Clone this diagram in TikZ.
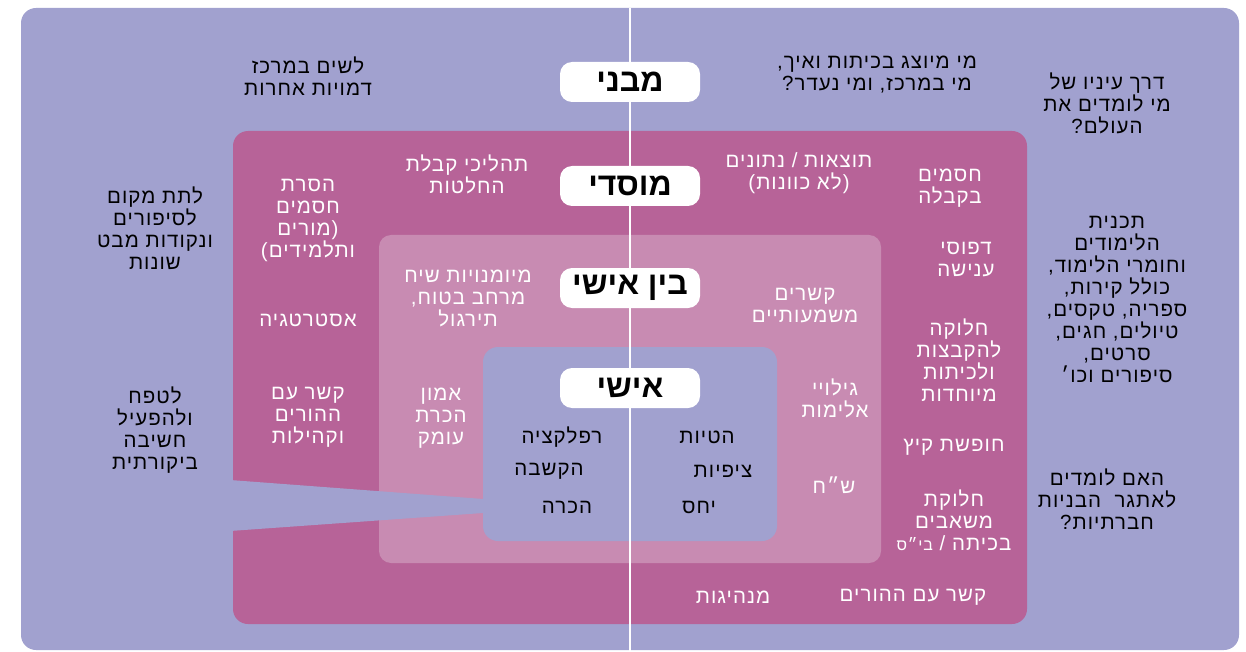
\documentclass[tikz,border=0pt]{standalone}
\usepackage{fontspec}
\setmainfont{Liberation Sans}
\newfontfamily\hebfont[Script=Hebrew, LetterSpace=5]{Liberation Sans}
\newfontfamily\heblbl[Script=Hebrew]{Liberation Sans}
\TeXXeTstate=1
\newcommand\RL[1]{\beginR #1\endR}
\definecolor{lav}{HTML}{A1A1CF}
\definecolor{mag}{HTML}{B76398}
\definecolor{lpink}{HTML}{C88BB2}
\begin{document}
\begin{tikzpicture}[x=1pt,y=-1pt,
  txt/.style={font=\hebfont\fontsize{20.5}{22}\selectfont, align=center, inner sep=0pt},
  wtxt/.style={txt,text=white},
  btxt/.style={txt,text=black},
  lbl/.style={fill=white, rounded corners=12pt, minimum width=140pt, minimum height=40pt,
    font=\heblbl\bfseries\fontsize{32}{32}\selectfont, inner sep=0pt, text=black}]
\useasboundingbox (0,0) rectangle (1246,652);
% layers
\fill[lav, rounded corners=15pt] (21,8) rectangle (1239,650);
\fill[mag, rounded corners=15pt] (233,131) rectangle (1027,624);
\fill[lpink, rounded corners=12pt] (379,235) rectangle (881,563);
\fill[lav] (230,480) -- (490,499.5) -- (490,512.5) -- (230,531) -- cycle;
\fill[lav, rounded corners=15pt] (483,347) rectangle (777,541);
% divider
\coordinate (dtop) at (630,8);
\coordinate (dbot) at (630,652);
\draw[white, line width=2.5pt] (dtop) -- (dbot);
% labels
\node[lbl] (mivni) at (630,82) {\RL{מבני}};
\node[lbl] (mosadi) at (630,186) {\RL{מוסדי}};
\node[lbl] (beinishi) at (630,288) {\RL{בין אישי}};
\node[lbl] (ishi) at (630,388) {\RL{אישי}};
% outer texts
\node[btxt] (t1) at (308,76) {\RL{לשים במרכז}\\\RL{דמויות אחרות}};
\node[btxt] (t2) at (877,75) {\RL{מי מיוצג בכיתות ואיך,}\\\RL{מי במרכז, ומי נעדר?}};
\node[btxt] (t3) at (1107,103) {\RL{דרך עיניו של}\\\RL{מי לומדים את}\\\RL{העולם?}};
\node[btxt] (t4) at (155,228) {\RL{לתת מקום}\\\RL{לסיפורים}\\\RL{ונקודות מבט}\\\RL{שונות}};
\node[btxt] (t5) at (155,430) {\RL{לטפח}\\\RL{ולהפעיל}\\\RL{חשיבה}\\\RL{ביקורתית}};
\node[btxt] (t6) at (1117,299) {\RL{תכנית}\\\RL{הלימודים}\\\RL{וחומרי הלימוד,}\\\RL{כולל קירות,}\\\RL{ספריה, טקסים,}\\\RL{טיולים, חגים,}\\\RL{סרטים,}\\\RL{סיפורים וכו׳}};
\node[btxt] (t7) at (1107,499) {\RL{האם לומדים}\\\RL{לאתגר\ \ הבניות}\\\RL{חברתיות?}};
% institutional texts
\node[wtxt] (m1) at (308,220) {\RL{הסרת}\\\RL{חסמים}\\\RL{(מורים}\\\RL{ותלמידים)}};
\node[wtxt] (m2) at (467,174) {\RL{תהליכי קבלת}\\\RL{החלטות}};
\node[wtxt] (m3) at (799,173) {\RL{תוצאות / נתונים}\\\RL{(לא כוונות)}};
\node[wtxt] (m4) at (950,188) {\RL{חסמים}\\\RL{בקבלה}};
\node[wtxt] (m5) at (308,320) {\RL{אסטרטגיה}};
\node[wtxt] (m6) at (308,417) {\RL{קשר עם}\\\RL{ההורים}\\\RL{וקהילות}};
\node[wtxt] (m7) at (966,260) {\RL{דפוסי}\\\RL{ענישה}};
\node[wtxt] (m8) at (959,360) {\RL{חלוקה}\\\RL{להקבצות}\\\RL{ולכיתות}\\\RL{מיוחדות}};
\node[wtxt] (m9) at (954,447) {\RL{חופשת קיץ}};
\node[wtxt] (m10) at (954,520) {\RL{חלוקת}\\\RL{משאבים}\\\RL{בכיתה / {\fontsize{16}{16}\selectfont בי״ס}}};
\node[wtxt] (m11) at (913,597) {\RL{קשר עם ההורים}};
\node[wtxt] (m12) at (733,597) {\RL{מנהיגות}};
% interpersonal texts
\node[wtxt] (b1) at (468,298) {\RL{מיומנויות שיח}\\\RL{מרחב בטוח,}\\\RL{תירגול}};
\node[wtxt] (b2) at (805,306) {\RL{קשרים}\\\RL{משמעותיים}};
\node[wtxt] (b3) at (835,398) {\RL{גילויי}\\\RL{אלימות}};
\node[wtxt] (b4) at (834,485) {\RL{ש״ח}};
\node[wtxt] (b5) at (441,418) {\RL{אמון}\\\RL{הכרת}\\\RL{עומק}};
% personal texts
\node[btxt] (p1) at (562,437) {\RL{רפלקציה}};
\node[btxt] (p2) at (549,471) {\RL{הקשבה}};
\node[btxt] (p3) at (567,507) {\RL{הכרה}};
\node[btxt] (p4) at (707,437) {\RL{הטיות}};
\node[btxt] (p5) at (723,471) {\RL{ציפיות}};
\node[btxt] (p6) at (699,507) {\RL{יחס}};
\end{tikzpicture}
\end{document}
